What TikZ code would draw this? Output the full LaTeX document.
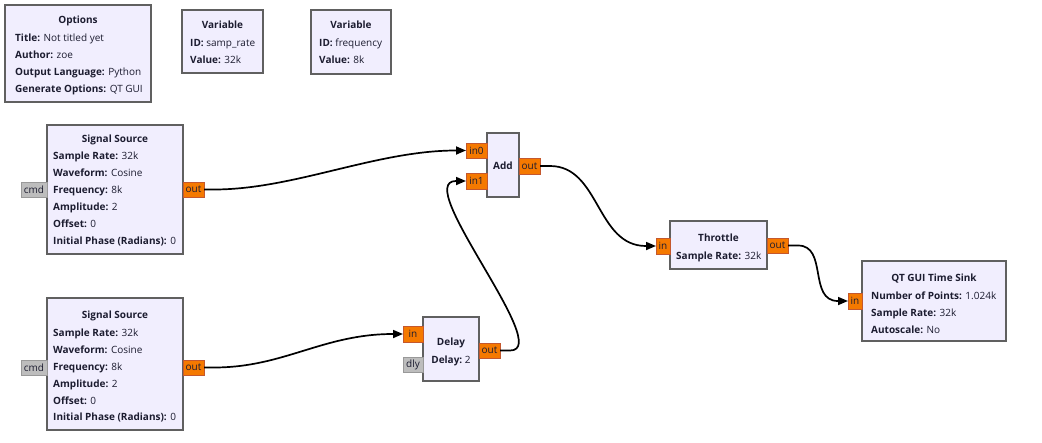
\documentclass[tikz,border=0pt]{standalone}
\usepackage{fontspec}
\setmainfont{Open Sans}
\usetikzlibrary{arrows.meta}
\definecolor{blkfill}{HTML}{F1EEFE}
\definecolor{blkline}{HTML}{606060}
\definecolor{portor}{HTML}{F57900}
\definecolor{portorline}{HTML}{C4582E}
\definecolor{portgr}{HTML}{BDBDBD}
\definecolor{portgrline}{HTML}{999999}
\definecolor{txt}{HTML}{1C1C30}
\tikzset{
  blk/.style={draw=blkline, fill=blkfill, line width=2pt, inner sep=0pt, outer sep=0pt, anchor=north west},
  lbl/.style={inner sep=0pt, text=txt, font=\fontsize{10}{12}\selectfont, anchor=base west},
  ttl/.style={inner sep=0pt, text=txt, font=\fontsize{10}{12}\selectfont\bfseries, anchor=base},
  oport/.style={draw=portorline, fill=portor, line width=1pt, inner sep=0pt, outer sep=0pt, anchor=north west, text=txt, font=\fontsize{10}{12}\selectfont},
  gport/.style={draw=portgrline, fill=portgr, line width=1pt, inner sep=0pt, outer sep=0pt, anchor=north west, text=txt, font=\fontsize{10}{12}\selectfont},
  edge/.style={draw=black, line width=1.7pt, -{Triangle[length=10pt,width=8pt]}}
}
\begin{document}
\begin{tikzpicture}[x=1pt,y=-1pt]
\useasboundingbox (0,0) rectangle (1042,442);
\fill[white] (0,0) rectangle (1042,442);

% Options
\node[blk, minimum width=146, minimum height=97] (opt) at (5,5) {};
\node[ttl] (opt-t) at (78,23.8) {Options};
\node[lbl] (opt-1) at (15,41.8) {\textbf{Title:} Not titled yet};
\node[lbl] (opt-2) at (15,58.8) {\textbf{Author:} zoe};
\node[lbl] (opt-3) at (15,75.8) {\textbf{Output Language:} Python};
\node[lbl] (opt-4) at (15,92.8) {\textbf{Generate Options:} QT GUI};

% Variable 1
\node[blk, minimum width=81, minimum height=63] (var1) at (182,10) {};
\node[ttl] (var1-t) at (222.5,28.8) {Variable};
\node[lbl] (var1-1) at (190,46.8) {\textbf{ID:} samp\_rate};
\node[lbl] (var1-2) at (190,63.8) {\textbf{Value:} 32k};

% Variable 2
\node[blk, minimum width=80, minimum height=64] (var2) at (311,10) {};
\node[ttl] (var2-t) at (351,28.8) {Variable};
\node[lbl] (var2-1) at (319,46.8) {\textbf{ID:} frequency};
\node[lbl] (var2-2) at (319,63.8) {\textbf{Value:} 8k};

% Signal Source 1
\node[blk, minimum width=136, minimum height=129] (ss1) at (47,125) {};
\node[ttl] (ss1-t) at (115,142.8) {Signal Source};
\node[lbl] (ss1-1) at (53,159.8) {\textbf{Sample Rate:} 32k};
\node[lbl] (ss1-2) at (53,176.8) {\textbf{Waveform:} Cosine};
\node[lbl] (ss1-3) at (53,193.8) {\textbf{Frequency:} 8k};
\node[lbl] (ss1-4) at (53,210.8) {\textbf{Amplitude:} 2};
\node[lbl] (ss1-5) at (53,227.8) {\textbf{Offset:} 0};
\node[lbl] (ss1-6) at (53,244.8) {\textbf{Initial Phase (Radians):} 0};
\node[gport, minimum width=26, minimum height=15] (ss1cmd) at (21,182) {cmd};
\node[oport, minimum width=21, minimum height=15] (ss1out) at (183,182) {out};

% Signal Source 2
\node[blk, minimum width=136, minimum height=132] (ss2) at (47,298) {};
\node[ttl] (ss2-t) at (115,318.8) {Signal Source};
\node[lbl] (ss2-1) at (53,336.8) {\textbf{Sample Rate:} 32k};
\node[lbl] (ss2-2) at (53,353.8) {\textbf{Waveform:} Cosine};
\node[lbl] (ss2-3) at (53,370.8) {\textbf{Frequency:} 8k};
\node[lbl] (ss2-4) at (53,387.8) {\textbf{Amplitude:} 2};
\node[lbl] (ss2-5) at (53,404.3) {\textbf{Offset:} 0};
\node[lbl] (ss2-6) at (53,420.8) {\textbf{Initial Phase (Radians):} 0};
\node[gport, minimum width=26, minimum height=15] (ss2cmd) at (21,360) {cmd};
\node[oport, minimum width=21, minimum height=15] (ss2out) at (183,360) {out};

% Add
\node[blk, minimum width=32, minimum height=64] (add) at (487,133) {};
\node[ttl] (add-t) at (503,169.8) {Add};
\node[oport, minimum width=21, minimum height=15] (addin0) at (466,143) {in0};
\node[oport, minimum width=21, minimum height=16] (addin1) at (466,173) {in1};
\node[oport, minimum width=21, minimum height=16] (addout) at (519,158) {out};

% Delay
\node[blk, minimum width=56, minimum height=64] (dly) at (423,317) {};
\node[ttl] (dly-t) at (451,345.8) {Delay};
\node[ttl] (dly-1) at (451,363.8) {Delay:\mdseries\ 2};
\node[oport, minimum width=20, minimum height=16] (dlyin) at (403,326) {in};
\node[gport, minimum width=20, minimum height=15] (dlydly) at (403,357) {dly};
\node[oport, minimum width=21, minimum height=15] (dlyout) at (479,343) {out};

% Throttle
\node[blk, minimum width=97, minimum height=48] (thr) at (670,221) {};
\node[ttl] (thr-t) at (718.5,241.8) {Throttle};
\node[lbl] (thr-1) at (676,259.8) {\textbf{Sample Rate:} 32k};
\node[oport, minimum width=14, minimum height=16] (thrin) at (656,238) {in};
\node[oport, minimum width=21, minimum height=15] (throut) at (767,238) {out};

% QT GUI Time Sink
\node[blk, minimum width=144, minimum height=80] (snk) at (862,261) {};
\node[ttl] (snk-t) at (934,281.8) {QT GUI Time Sink};
\node[lbl] (snk-1) at (871,299.8) {\textbf{Number of Points:} 1.024k};
\node[lbl] (snk-2) at (871,316.8) {\textbf{Sample Rate:} 32k};
\node[lbl] (snk-3) at (871,333.8) {\textbf{Autoscale:} No};
\node[oport, minimum width=14, minimum height=16] (snkin) at (848,293) {in};

% Connections
\draw[edge] (ss1out.east) -- ++(10,0) .. controls +(80,0) and +(-80,0) .. ([xshift=-10pt]addin0.west) -- (addin0.west);
\draw[edge] (ss2out.east) -- ++(10,0) .. controls +(70,0) and +(-70,0) .. ([xshift=-10pt]dlyin.west) -- (dlyin.west);
\draw[edge] (dlyout.east) -- ++(10,0) .. controls +(45,0) and +(-45,0) .. ([xshift=-10pt]addin1.west) -- (addin1.west);
\draw[edge] (addout.east) -- ++(10,0) .. controls +(50,0) and +(-50,0) .. ([xshift=-10pt]thrin.west) -- (thrin.west);
\draw[edge] (throut.east) -- ++(10,0) .. controls +(30,0) and +(-30,0) .. ([xshift=-10pt]snkin.west) -- (snkin.west);
\end{tikzpicture}
\end{document}
